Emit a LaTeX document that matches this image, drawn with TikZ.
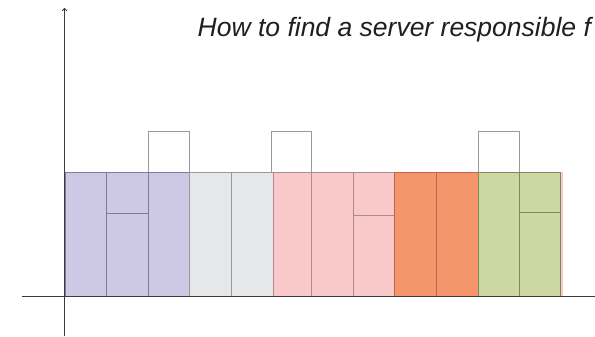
\documentclass[tikz,border=0pt]{standalone}
\usepackage{fontspec}
\setmainfont{Liberation Sans}
\usetikzlibrary{arrows.meta}
\definecolor{purpfill}{HTML}{CDC9E5}
\definecolor{purpline}{HTML}{7E7A9C}
\definecolor{grayfill}{HTML}{E6E7E8}
\definecolor{grayline}{HTML}{9A9A9A}
\definecolor{pinkfill}{HTML}{F9C9CA}
\definecolor{pinkline}{HTML}{B08A8C}
\definecolor{orangefill}{HTML}{F5956B}
\definecolor{orangeline}{HTML}{C0654A}
\definecolor{greenfill}{HTML}{CDD7A1}
\definecolor{greenline}{HTML}{7F8A5C}
\definecolor{axiscol}{HTML}{3A3A3A}
\tikzset{
  purpbox/.style={fill=purpfill,draw=purpline,line width=1pt},
  graybox/.style={fill=grayfill,draw=grayline,line width=1pt},
  pinkbox/.style={fill=pinkfill,draw=pinkline,line width=1pt},
  orangebox/.style={fill=orangefill,draw=orangeline,line width=1pt},
  greenbox/.style={fill=greenfill,draw=greenline,line width=1pt},
  emptybox/.style={draw=grayline,line width=1pt},
  axisline/.style={draw=axiscol,line width=0.9pt},
  titletext/.style={font=\itshape\fontsize{26.5}{30}\selectfont,text=black!88,inner sep=0pt,anchor=base west}
}
\begin{document}
\begin{tikzpicture}[x=1pt,y=-1pt]
\useasboundingbox (0,0) rectangle (595,337);
\clip (0,0) rectangle (595,337);
% empty boxes on top
\draw[emptybox] (148,131) rectangle (189,172);
\draw[emptybox] (271,131) rectangle (311,172);
\draw[emptybox] (478,131) rectangle (519,172);
% purple
\draw[purpbox] (65,172) rectangle (106.5,296);
\draw[purpbox] (106.5,172) rectangle (148,213);
\draw[purpbox] (106.5,213) rectangle (148,296);
\draw[purpbox] (148,172) rectangle (189,296);
% gray
\draw[graybox] (189,172) rectangle (231,296);
\draw[graybox] (231,172) rectangle (273,296);
% pink
\draw[pinkbox] (273,172) rectangle (311,296);
\draw[pinkbox] (311,172) rectangle (353,296);
\draw[pinkbox] (353,172) rectangle (394,215.5);
\draw[pinkbox] (353,215.5) rectangle (394,296);
% orange
\draw[orangebox] (394,172) rectangle (436,296);
\draw[orangebox] (436,172) rectangle (478,296);
% pink strip behind green
\fill[pinkfill] (521,172) rectangle (562.5,297);
% green
\draw[greenbox] (478,172) rectangle (519,296);
\draw[greenbox] (519,172) rectangle (560.5,212.5);
\draw[greenbox] (519,212.5) rectangle (560.5,296);
% axes
\coordinate (ybot) at (64.5,336);
\coordinate (ytop) at (64.5,8);
\coordinate (xleft) at (22,296.5);
\coordinate (xright) at (600,296.5);
\draw[axisline,-{To[length=3pt,width=5pt]}] (ybot) -- (ytop);
\draw[axisline] (xleft) -- (xright);
% title
\node[titletext] (title) at (197.5,36.5) {How to find a server responsible f};
\end{tikzpicture}
\end{document}
